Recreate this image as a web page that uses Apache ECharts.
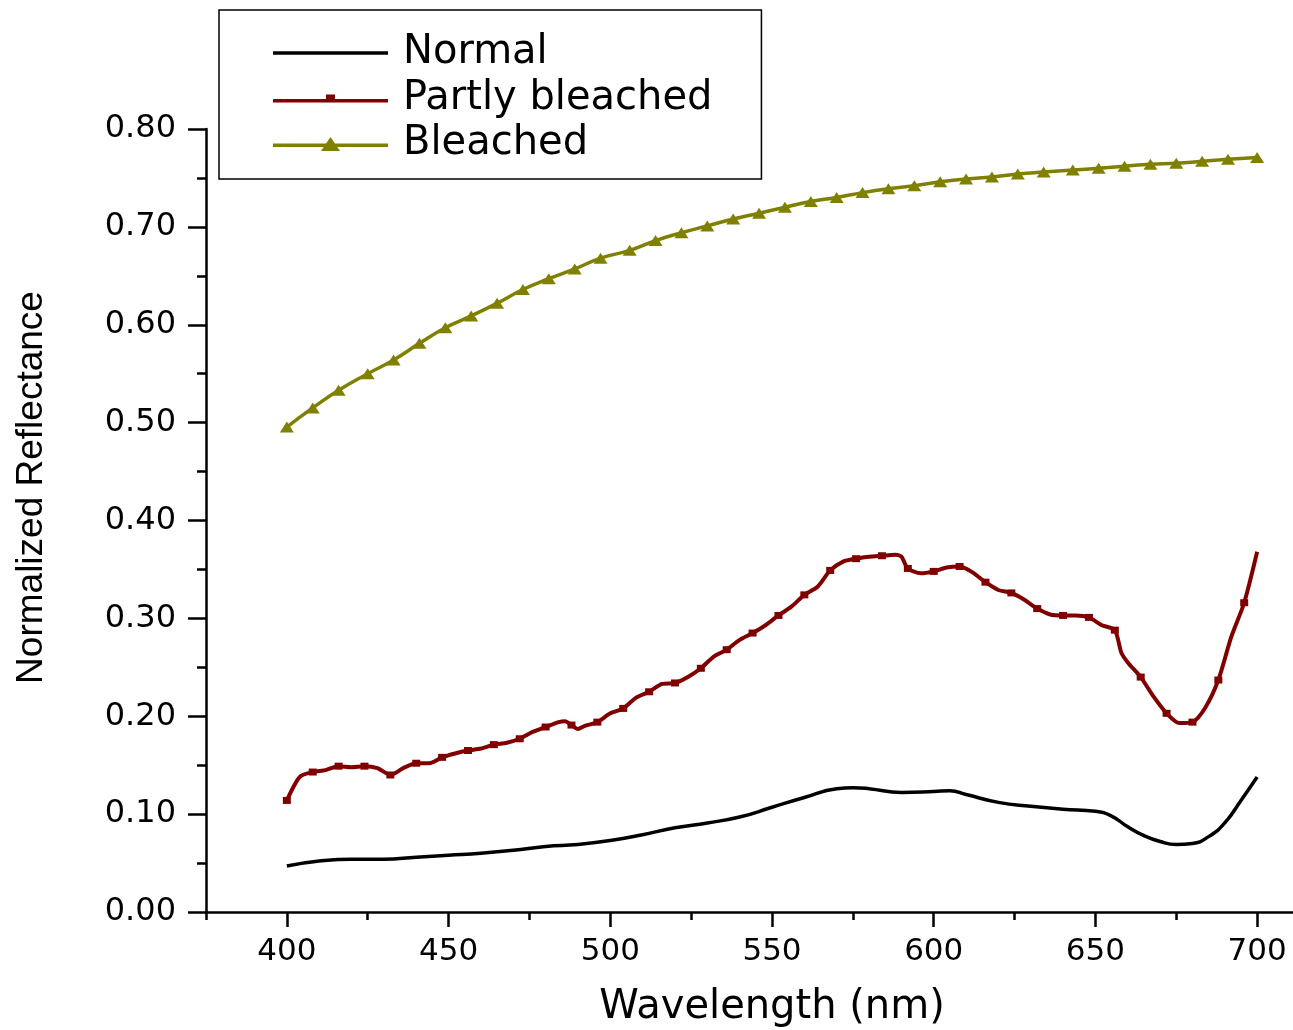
<!DOCTYPE html>
<html>
<head>
<meta charset="utf-8">
<script src="https://cdn.jsdelivr.net/npm/echarts@6/dist/echarts.min.js"></script>
<style>
  html, body { margin: 0; padding: 0; background: #fff; }
  #chart { width: 1293px; height: 1030px; }
</style>
</head>
<body>
<div id="chart"></div>
<script>
// Normal (black, no markers)
const normalNm = [400, 410, 420, 430, 440, 450, 460, 470, 480, 490, 500, 510, 520, 530, 540, 550, 560, 570, 575, 580, 590, 600, 605, 610, 620, 630, 640, 650, 655, 660, 665, 670, 675, 680, 685, 690, 695, 700];
const normalVal = [0.047, 0.052, 0.054, 0.054, 0.056, 0.058, 0.060, 0.063, 0.067, 0.069, 0.073, 0.079, 0.086, 0.091, 0.097, 0.107, 0.117, 0.126, 0.127, 0.126, 0.122, 0.123, 0.124, 0.120, 0.112, 0.108, 0.105, 0.103, 0.098, 0.087, 0.078, 0.072, 0.069, 0.070, 0.077, 0.091, 0.114, 0.138];

// Partly bleached (dark red, square marker every 8 nm)
const partlyNm = [400, 404, 408, 412, 416, 420, 424, 428, 432, 436, 440, 444, 448, 452, 456, 460, 464, 468, 472, 476, 480, 484, 486, 488, 490, 492, 496, 500, 504, 508, 512, 516, 520, 524, 528, 532, 536, 540, 544, 548, 552, 556, 560, 564, 568, 572, 576, 580, 584, 588, 590, 592, 596, 600, 604, 608, 612, 616, 620, 624, 628, 632, 636, 640, 644, 648, 652, 656, 658, 660, 664, 668, 672, 676, 680, 684, 688, 692, 696, 700];
const partlyVal = [0.114, 0.138, 0.143, 0.145, 0.149, 0.148, 0.149, 0.147, 0.140, 0.147, 0.152, 0.152, 0.158, 0.162, 0.165, 0.167, 0.171, 0.173, 0.177, 0.184, 0.189, 0.194, 0.195, 0.191, 0.187, 0.190, 0.194, 0.203, 0.208, 0.219, 0.225, 0.233, 0.234, 0.240, 0.249, 0.261, 0.268, 0.278, 0.285, 0.293, 0.303, 0.312, 0.324, 0.332, 0.349, 0.358, 0.361, 0.363, 0.364, 0.365, 0.363, 0.351, 0.346, 0.348, 0.352, 0.353, 0.347, 0.337, 0.329, 0.326, 0.319, 0.310, 0.304, 0.303, 0.303, 0.301, 0.293, 0.288, 0.265, 0.255, 0.240, 0.220, 0.203, 0.193, 0.194, 0.209, 0.237, 0.281, 0.316, 0.368];

// Bleached (olive, triangle marker on every point)
const bleachedNm = [400, 408, 416, 425, 433, 441, 449, 457, 465, 473, 481, 489, 497, 506, 514, 522, 530, 538, 546, 554, 562, 570, 578, 586, 594, 602, 610, 618, 626, 634, 643, 651, 659, 667, 675, 683, 691, 700];
const bleachedVal = [0.4955, 0.515, 0.533, 0.550, 0.564, 0.581, 0.597, 0.609, 0.622, 0.636, 0.647, 0.657, 0.668, 0.676, 0.686, 0.694, 0.701, 0.708, 0.714, 0.720, 0.726, 0.730, 0.735, 0.739, 0.742, 0.746, 0.749, 0.751, 0.754, 0.756, 0.758, 0.760, 0.762, 0.764, 0.765, 0.767, 0.769, 0.771];

// axis ticks
const xMajorTicks = [400, 450, 500, 550, 600, 650, 700];
const xMinorTicks = [375, 425, 475, 525, 575, 625, 675, 725];

const zip = ( xs, ys ) => xs.map( ( x, i ) => [ x, ys[ i ] ] );

const FONT = 'DejaVu Sans';

// legend icons: a 115px line with the series marker in the middle.
// The empty point at x=125 only widens the box, so the text sits further right.
const PAD = 'M125,7L125,7.01Z';
const ICON_LINE = 'path://M0,5.5L115,5.5L115,9L0,9Z' + PAD;
const ICON_SQUARE = 'path://M0,5.5L115,5.5L115,9L0,9ZM53,1L62,1L62,8L53,8Z' + PAD;
const ICON_TRIANGLE = 'path://M0,6.5L115,6.5L115,10L0,10ZM57.5,0L67,14L48,14Z' + PAD;

const chart = echarts.init( document.getElementById( 'chart' ), null, { renderer: 'canvas' } );

// the axis runs on past the right edge of the picture (the figure is cropped there)
const xBase = {
	type: 'value',
	min: 375,
	max: 725,
	interval: 25,
	splitLine: { show: false }
};

chart.setOption( {
	backgroundColor: '#fff',
	animation: false,
	grid: {
		left: 206,
		width: 1132,
		top: 129,
		bottom: 118,
		containLabel: false,
		outerBoundsMode: 'none'
	},
	legend: {
		orient: 'vertical',
		left: 219,
		top: 10,
		padding: [ 23, 49, 15, 54 ],
		borderColor: '#000',
		borderWidth: 1.5,
		itemWidth: 125,
		itemHeight: 14,
		itemGap: 5.5,
		symbolKeepAspect: true,
		textStyle: { fontFamily: FONT, fontSize: 40, color: '#000', lineHeight: 40 },
		data: [
			{ name: 'Normal', icon: ICON_LINE },
			{ name: 'Partly bleached', icon: ICON_SQUARE },
			{ name: 'Bleached', icon: ICON_TRIANGLE }
		]
	},
	xAxis: [
		Object.assign( {}, xBase, {
			name: 'Wavelength (nm)',
			nameLocation: 'middle',
			nameGap: 76,
			nameTextStyle: { fontFamily: FONT, fontSize: 40, color: '#000' },
			axisLine: { lineStyle: { color: '#000', width: 2.5 } },
			axisTick: { customValues: xMajorTicks, length: 15, lineStyle: { color: '#000', width: 2.5 } },
			axisLabel: {
				margin: 24,
				fontFamily: FONT,
				fontSize: 31,
				color: '#000',
				formatter: ( v ) => ( v % 50 === 0 && v <= 700 ? String( v ) : '' )
			}
		} ),
		Object.assign( {}, xBase, {
			position: 'bottom',
			axisLine: { show: false },
			axisTick: { customValues: xMinorTicks, length: 8, lineStyle: { color: '#000', width: 2.5 } },
			axisLabel: { show: false }
		} )
	],
	yAxis: {
		type: 'value',
		min: 0,
		max: 0.8,
		interval: 0.1,
		name: 'Normalized Reflectance',
		nameLocation: 'middle',
		nameGap: 156,
		nameTextStyle: {
			fontFamily: 'Liberation Sans',
			fontSize: 37,
			color: '#000',
			padding: [ 0, 0, 0, 66 ]
		},
		splitLine: { show: false },
		axisLine: { show: true, lineStyle: { color: '#000', width: 2.5 } },
		axisTick: { show: true, length: 18, lineStyle: { color: '#000', width: 2.5 } },
		minorTick: { show: true, splitNumber: 2, length: 9, lineStyle: { color: '#000', width: 2.5 } },
		axisLabel: {
			margin: 30,
			fontFamily: FONT,
			fontSize: 32,
			color: '#000',
			formatter: ( v ) => v.toFixed( 2 )
		}
	},
	series: [
		{
			name: 'Normal',
			type: 'line',
			data: zip( normalNm, normalVal ),
			smooth: true,
			symbol: 'none',
			color: '#000000',
			lineStyle: { width: 3.5 }
		},
		{
			name: 'Partly bleached',
			type: 'line',
			data: zip( partlyNm, partlyVal ),
			smooth: 0.25,
			showSymbol: true,
			showAllSymbol: true,
			symbol: ( value ) => ( value[ 0 ] % 8 === 0 && value[ 0 ] < 700 ? 'rect' : 'none' ),
			symbolSize: [ 8, 7 ],
			color: '#800000',
			lineStyle: { width: 4 }
		},
		{
			name: 'Bleached',
			type: 'line',
			data: zip( bleachedNm, bleachedVal ),
			smooth: true,
			showSymbol: true,
			showAllSymbol: true,
			symbol: 'triangle',
			symbolSize: [ 14, 11 ],
			color: '#808000',
			lineStyle: { width: 3.5 }
		}
	]
} );
</script>
</body>
</html>
